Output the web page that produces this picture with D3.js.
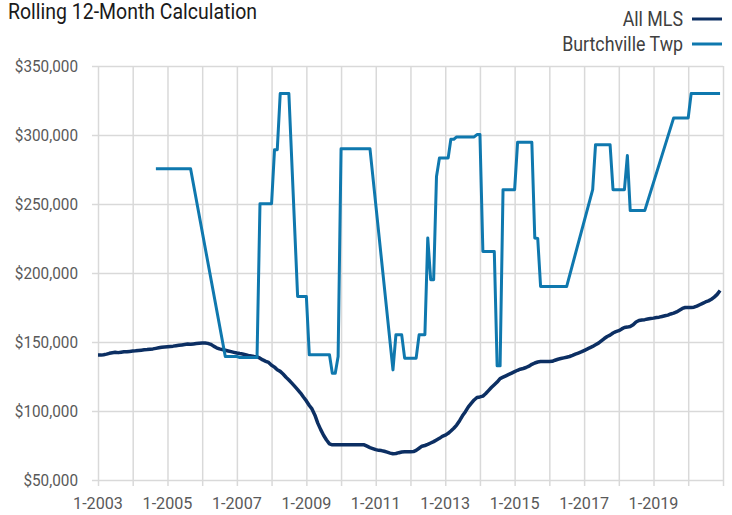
<!DOCTYPE html>
<meta charset="utf-8">
<style>
body { margin: 0; background: #fff; overflow: hidden; }
text { font-family: "Liberation Sans Narrow", "Arial Narrow", Roboto, sans-serif; }
.grid line { stroke: #d9d9d9; stroke-width: 1.5px; }
.line { fill: none; stroke-linejoin: round; }
</style>
<body>
<script src="https://d3js.org/d3.v7.min.js"></script>
<script>

// All MLS, monthly from 1-2003 to 12-2020 (thousands of $), one row per year
var mlsValues = [
  140.5, 140.5, 140.8, 141.2, 141.8, 142.2, 142.5, 142.3, 142.6, 142.9, 143.0, 143.2, // 2003
  143.4, 143.6, 143.9, 144.1, 144.3, 144.5, 144.8, 145.0, 145.4, 145.8, 146.2, 146.4, // 2004
  146.6, 146.8, 147.0, 147.3, 147.6, 147.9, 148.2, 148.5, 148.3, 148.6, 148.9, 149.1, // 2005
  149.3, 149.3, 149.0, 148.3, 147.0, 145.8, 145.0, 144.5, 144.0, 143.5, 143.0, 142.5, // 2006
  142.0, 141.6, 141.3, 140.8, 140.3, 139.9, 139.5, 139.2, 138.3, 137.0, 136.0, 135.2, // 2007
  133.2, 131.8, 129.9, 128.7, 126.8, 124.5, 122.5, 120.2, 117.8, 115.5, 113.0, 110.1, // 2008
  107.3, 104.0, 101.5, 97.0, 91.2, 86.5, 82.4, 79.0, 76.2, 75.5, 75.5, 75.5,           // 2009
  75.5, 75.5, 75.5, 75.5, 75.5, 75.5, 75.5, 75.5, 75.5, 74.5, 73.5, 72.8,              // 2010
  72.0, 71.5, 71.3, 70.8, 70.2, 69.5, 69.0, 69.2, 69.8, 70.3, 70.5, 70.5,              // 2011
  70.5, 70.6, 71.5, 73.0, 74.5, 75.0, 75.8, 76.8, 77.8, 79.0, 80.2, 81.6,              // 2012
  82.5, 83.8, 85.5, 87.5, 89.8, 93.0, 96.5, 99.5, 103.0, 105.5, 108.0, 109.8,          // 2013
  110.2, 110.8, 112.5, 114.8, 117.0, 119.0, 121.0, 123.5, 124.5, 125.5, 126.5, 127.5,  // 2014
  128.5, 129.5, 130.3, 130.8, 131.5, 132.5, 133.8, 134.8, 135.5, 135.8, 135.8, 135.8,  // 2015
  135.8, 136.0, 136.8, 137.5, 138.0, 138.5, 139.0, 139.5, 140.3, 141.2, 142.0, 142.8,  // 2016
  143.8, 144.8, 145.8, 146.8, 148.0, 149.2, 150.8, 152.5, 154.0, 155.0, 156.5, 157.5,  // 2017
  158.2, 159.5, 160.5, 160.8, 161.2, 162.5, 164.5, 165.6, 166.0, 166.2, 166.6, 167.0,  // 2018
  167.3, 167.8, 168.0, 168.5, 169.0, 169.5, 170.3, 170.9, 171.8, 173.0, 174.3, 175.0,  // 2019
  175.0, 175.0, 175.2, 176.0, 177.0, 178.0, 179.0, 179.8, 181.0, 182.5, 184.5, 187.3   // 2020
];

// Burtchville Twp, months where the line turns (thousands of $)
var burtDates = [
  "2004-09", "2005-09", "2006-09", "2007-01", "2007-02", "2007-08", "2007-09", "2008-01",
  "2008-02", "2008-03", "2008-04", "2008-07", "2008-10", "2009-01", "2009-02", "2009-09",
  "2009-10", "2009-11", "2009-12", "2010-01", "2010-11", "2011-07", "2011-08", "2011-10",
  "2011-11", "2012-03", "2012-04", "2012-06", "2012-07", "2012-08", "2012-09", "2012-10",
  "2012-11", "2013-02", "2013-03", "2013-04", "2013-05", "2013-11", "2013-12", "2014-01",
  "2014-02", "2014-06", "2014-07", "2014-08", "2014-09", "2015-01", "2015-02", "2015-07",
  "2015-08", "2015-09", "2015-10", "2016-07", "2017-04", "2017-05", "2017-10", "2017-11",
  "2018-03", "2018-04", "2018-05", "2018-10", "2019-08", "2020-01", "2020-02", "2020-12"
];
var burtValues = [
  275.5, 275.5, 139.5, 139.5, 138.8, 138.8, 250.2, 250.2,
  289.4, 289.4, 330.0, 330.0, 183.0, 183.0, 140.7, 140.7,
  127.4, 127.4, 139.5, 290.1, 290.1, 129.8, 155.2, 155.2,
  138.3, 138.3, 155.2, 155.2, 225.4, 195.1, 195.1, 270.0,
  283.4, 283.4, 296.9, 296.9, 298.6, 298.6, 300.3, 300.3,
  215.6, 215.6, 132.7, 132.7, 260.4, 260.4, 294.7, 294.7,
  225.4, 225.0, 190.2, 190.2, 260.4, 293.0, 293.0, 260.4,
  260.4, 285.1, 245.2, 245.2, 312.4, 312.4, 330.0, 330.0
];

var yTicks = [50000, 100000, 150000, 200000, 250000, 300000, 350000];
var xLabelYears = [2003, 2005, 2007, 2009, 2011, 2013, 2015, 2017, 2019];
var seriesNames = ["All MLS", "Burtchville Twp"];
var seriesColors = ["#0c2f63", "#0f78ae"];
var seriesWidths = [3.5, 3];

var width = 732, height = 515;
var svg = d3.select("body").append("svg")
    .attr("width", width)
    .attr("height", height);

var parseMonth = d3.timeParse("%Y-%m");

var x = d3.scaleTime()
    .domain([new Date(2003, 0, 1), new Date(2021, 0, 1)])
    .range([98, 723]);
var y = d3.scaleLinear()
    .domain([50000, 350000])
    .range([480, 66]);

var mlsData = mlsValues.map(function(v, i) {
  return { date: new Date(2003, i, 1), value: v * 1000 };
});
var burtData = burtDates.map(function(d, i) {
  return { date: parseMonth(d), value: burtValues[i] * 1000 };
});

// gridlines
var yearTicks = d3.timeYear.range(new Date(2003, 0, 1), new Date(2021, 0, 2));

svg.append("g")
    .attr("class", "grid")
    .attr("transform", "translate(0,480)")
    .call(d3.axisBottom(x).tickValues(yearTicks).tickSize(-414).tickFormat(""))
    .call(function(g) { g.select(".domain").remove(); });

svg.append("g")
    .attr("class", "grid")
    .attr("transform", "translate(98,0)")
    .call(d3.axisLeft(y).tickValues(yTicks).tickSize(-625).tickFormat(""))
    .call(function(g) { g.select(".domain").remove(); });

// small tick marks outside the plot
svg.append("g")
    .attr("class", "grid")
    .attr("transform", "translate(0,480)")
    .call(d3.axisBottom(x).tickValues(yearTicks).tickSize(6).tickFormat(""))
    .call(function(g) { g.select(".domain").remove(); });
svg.append("g")
    .attr("class", "grid")
    .attr("transform", "translate(98,0)")
    .call(d3.axisLeft(y).tickValues(yTicks).tickSize(6).tickFormat(""))
    .call(function(g) { g.select(".domain").remove(); });

// tick labels (squeezed a bit to look like the condensed original font)
var fmt = d3.format("$,");
svg.append("g").selectAll("text")
  .data(yTicks)
  .enter().append("text")
    .attr("transform", function(d) { return "translate(78," + (y(d) + 6) + ") scale(0.9,1)"; })
    .attr("text-anchor", "end")
    .style("font-size", "17px")
    .style("fill", "#595959")
    .text(fmt);

svg.append("g").selectAll("text")
  .data(xLabelYears)
  .enter().append("text")
    .attr("transform", function(d) { return "translate(" + x(new Date(d, 0, 1)) + ",509) scale(0.95,1)"; })
    .attr("text-anchor", "middle")
    .style("font-size", "17px")
    .style("fill", "#595959")
    .text(function(d) { return "1-" + d; });

// lines
var line = d3.line()
    .x(function(d) { return x(d.date); })
    .y(function(d) { return y(d.value); });

svg.append("path")
    .datum(mlsData)
    .attr("class", "line")
    .attr("stroke", seriesColors[0])
    .attr("stroke-width", seriesWidths[0])
    .attr("d", line);

svg.append("path")
    .datum(burtData)
    .attr("class", "line")
    .attr("stroke", seriesColors[1])
    .attr("stroke-width", seriesWidths[1])
    .attr("d", line);

// title
svg.append("text")
    .attr("transform", "translate(8,19) scale(0.885,1)")
    .style("font-size", "22px")
    .style("fill", "#1a1a1a")
    .text("Rolling 12-Month Calculation");

// legend
var legend = svg.append("g").selectAll("g")
  .data(seriesNames)
  .enter().append("g")
    .attr("transform", function(d, i) { return "translate(0," + (19 + i * 25) + ")"; });

legend.append("text")
    .attr("transform", "translate(683,7) scale(0.89,1)")
    .attr("text-anchor", "end")
    .style("font-size", "20px")
    .style("fill", "#404040")
    .text(function(d) { return d; });

legend.append("line")
    .attr("x1", 692)
    .attr("x2", 722)
    .attr("stroke", function(d, i) { return seriesColors[i]; })
    .attr("stroke-width", 3);

</script>
</body>
